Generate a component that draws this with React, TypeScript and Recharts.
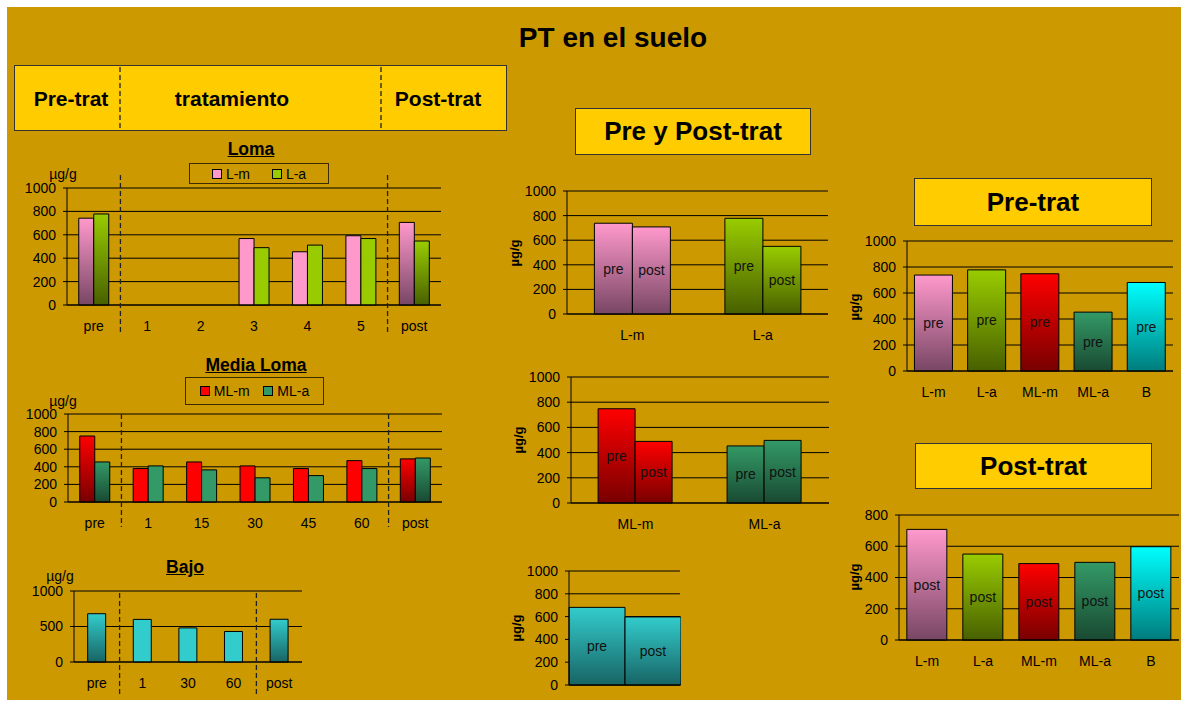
import React from "react";
import { BarChart, Bar, XAxis, YAxis, CartesianGrid, Cell, LabelList } from "recharts";

const FONT = '"Liberation Sans", Arial, Helvetica, sans-serif';

// Loma (tratamiento)
const lomaCats = ["pre", "1", "2", "3", "4", "5", "post"];
const lomaM = [742, null, null, 568, 455, 592, 706];
const lomaA = [778, null, null, 490, 512, 568, 547];

// Media Loma
const mediaCats = ["pre", "1", "15", "30", "45", "60", "post"];
const mediaM = [750, 380, 455, 410, 380, 470, 490];
const mediaA = [455, 410, 365, 275, 300, 380, 500];

// Bajo
const bajoCats = ["pre", "1", "30", "60", "post"];
const bajoB = [680, 600, 480, 430, 602];

// Pre / Post por sitio
const sites = ["L-m", "L-a", "ML-m", "ML-a", "B"];
const preTrat = [738, 778, 748, 453, 681];
const postTrat = [708, 550, 489, 497, 597];

const ticks1000 = [0, 200, 400, 600, 800, 1000];
const ticks800 = [0, 200, 400, 600, 800];
const ticksBajo = [0, 500, 1000];

const grads: [string, string, string][] = [
  ["gPink", "#FF99CC", "#784664"],
  ["gGreen", "#99CC00", "#486000"],
  ["gRed", "#FF0000", "#780000"],
  ["gTeal", "#339966", "#194a32"],
  ["gCyanD", "#33CCCC", "#186464"],
  ["gCyan", "#00FFFF", "#007c7c"],
];

const siteFill: Record<string, string> = {
  "L-m": "url(#gPink)",
  "L-a": "url(#gGreen)",
  "ML-m": "url(#gRed)",
  "ML-a": "url(#gTeal)",
  B: "url(#gCyan)",
};

const lomaData = lomaCats.map((cat, i) => ({ cat, m: lomaM[i], a: lomaA[i] }));
const mediaData = mediaCats.map((cat, i) => ({ cat, m: mediaM[i], a: mediaA[i] }));
const bajoData = bajoCats.map((cat, i) => ({ cat, b: bajoB[i] }));
const siteData = sites.map((cat, i) => ({ cat, pre: preTrat[i], post: postTrat[i] }));

// plot areas (page px)
type Frame = { x0: number; x1: number; y0: number; y1: number };
const F: Record<string, Frame> = {
  loma: { x0: 67, x1: 441, y0: 188, y1: 305 },
  media: { x0: 68, x1: 442, y0: 414, y1: 502 },
  bajo: { x0: 74, x1: 302, y0: 591, y1: 662 },
  mid1: { x0: 567, x1: 828, y0: 191, y1: 314 },
  mid2: { x0: 571, x1: 829, y0: 377, y1: 503 },
  mid3: { x0: 569, x1: 680, y0: 571, y1: 685 },
  pre: { x0: 907, x1: 1173, y0: 241, y1: 371 },
  post: { x0: 899, x1: 1179, y0: 515, y1: 640 },
};

const Y_W = 50;
const TOP = 10;
const X_H = 30;
const tickStyle = { fontSize: 14, fill: "#000", fontFamily: FONT };
const isEdge = (c: string) => c === "pre" || c === "post";

function Plot({ f, data, ticks, gap, hideX, children }: any) {
  const width = f.x1 - f.x0 + Y_W + 1;
  const height = f.y1 - f.y0 + TOP + X_H;
  return (
    <div style={{ position: "absolute", left: f.x0 - Y_W, top: f.y0 - TOP }}>
      <BarChart width={width} height={height} data={data} margin={{ top: TOP, right: 1, bottom: 0, left: 0 }}
        barCategoryGap={gap} barGap={0}>
        <CartesianGrid vertical={false} stroke="#000" />
        <XAxis dataKey="cat" height={X_H} interval={0} tickLine={false} tickSize={5} tickMargin={11}
          axisLine={{ stroke: "#000" }} tick={hideX ? false : tickStyle} />
        <YAxis width={Y_W} domain={[0, ticks[ticks.length - 1]]} ticks={ticks} interval={0} tickSize={4} tickMargin={7}
          axisLine={{ stroke: "#000" }} tickLine={{ stroke: "#000" }} tick={tickStyle} />
        {children}
      </BarChart>
    </div>
  );
}

const inLabel = (txt: string) => (
  <LabelList position="center" formatter={() => txt} fill="#111" stroke="none" fontSize={14} fontFamily={FONT} />
);

function YBox({ x, y, w, h, size, children }: any) {
  return (
    <div style={{ position: "absolute", left: x, top: y, width: w, height: h, boxSizing: "border-box",
      background: "#FFCC00", border: "1.5px solid #333", display: "flex", alignItems: "center",
      justifyContent: "center", fontWeight: "bold", fontSize: size }}>
      {children}
    </div>
  );
}

function Txt({ x, y, size, bold, underline, children }: any) {
  return (
    <div style={{ position: "absolute", left: x - 150, top: y - 15, width: 300, height: 30, lineHeight: "30px",
      textAlign: "center", fontSize: size, fontWeight: bold ? "bold" : "normal",
      textDecoration: underline ? "underline" : "none", whiteSpace: "nowrap" }}>
      {children}
    </div>
  );
}

function VLabel({ x, y }: any) {
  return (
    <div style={{ position: "absolute", left: x - 20, top: y - 10, width: 40, height: 20, lineHeight: "20px",
      textAlign: "center", fontSize: 13, fontWeight: "bold", transform: "rotate(-90deg)" }}>µg/g</div>
  );
}

function LegendBox({ x, y, w, h, items }: any) {
  return (
    <div style={{ position: "absolute", left: x, top: y, width: w, height: h, boxSizing: "border-box",
      border: "1px solid #3a2c00", display: "flex", alignItems: "center", justifyContent: "space-evenly", fontSize: 14 }}>
      {items.map((it: any) => (
        <span key={it.label} style={{ display: "flex", alignItems: "center" }}>
          <span style={{ display: "inline-block", width: 8, height: 8, background: it.color, border: "1px solid #000", marginRight: 4 }} />
          {it.label}
        </span>
      ))}
    </div>
  );
}

const sep = (f: Frame, n: number, k: number) => f.x0 + ((f.x1 - f.x0) * k) / n;

export default function App() {
  const dashes = [
    { x: 120, ya: 67, yb: 130 },
    { x: 381, ya: 67, yb: 130 },
    { x: sep(F.loma, 7, 1), ya: 175, yb: 333 },
    { x: sep(F.loma, 7, 6), ya: 175, yb: 333 },
    { x: sep(F.media, 7, 1), ya: 414, yb: 527 },
    { x: sep(F.media, 7, 6), ya: 414, yb: 527 },
    { x: sep(F.bajo, 5, 1), ya: 593, yb: 695 },
    { x: sep(F.bajo, 5, 4), ya: 593, yb: 695 },
  ];
  return (
    <div style={{ position: "absolute", left: 0, top: 0, width: 1181, height: 702, background: "#fff",
      overflow: "hidden", fontFamily: FONT, color: "#000" }}>
      <svg width={0} height={0} style={{ position: "absolute" }}>
        <defs>
          {grads.map(([id, top, bottom]) => (
            <linearGradient key={id} id={id} x1="0" y1="0" x2="0" y2="1">
              <stop offset="0%" stopColor={top} />
              <stop offset="100%" stopColor={bottom} />
            </linearGradient>
          ))}
        </defs>
      </svg>
      <div style={{ position: "absolute", left: 7, top: 7, width: 1174, height: 693, background: "#CC9900" }} />

      <Txt x={613} y={38} size={28} bold>PT en el suelo</Txt>

      <YBox x={14} y={65} w={493} h={66} size={21} />
      <Txt x={71} y={99} size={21} bold>Pre-trat</Txt>
      <Txt x={232} y={99} size={21} bold>tratamiento</Txt>
      <Txt x={438} y={99} size={21} bold>Post-trat</Txt>

      <YBox x={575} y={108} w={236} h={47} size={26}>Pre y Post-trat</YBox>
      <YBox x={914} y={178} w={238} h={48} size={26}>Pre-trat</YBox>
      <YBox x={915} y={443} w={237} h={46} size={26}>Post-trat</YBox>

      {/* Loma */}
      <Txt x={251} y={149} size={17.5} bold underline>Loma</Txt>
      <LegendBox x={189} y={163} w={140} h={21}
        items={[{ label: "L-m", color: "#FF99CC" }, { label: "L-a", color: "#99CC00" }]} />
      <Txt x={63} y={174} size={14}>µg/g</Txt>
      <Plot f={F.loma} data={lomaData} ticks={ticks1000} gap="22%">
        <Bar dataKey="m" name="L-m" fill="#FF99CC" stroke="#000" isAnimationActive={false}>
          {lomaData.map((d, i) => <Cell key={i} fill={isEdge(d.cat) ? "url(#gPink)" : "#FF99CC"} />)}
        </Bar>
        <Bar dataKey="a" name="L-a" fill="#99CC00" stroke="#000" isAnimationActive={false}>
          {lomaData.map((d, i) => <Cell key={i} fill={isEdge(d.cat) ? "url(#gGreen)" : "#99CC00"} />)}
        </Bar>
      </Plot>

      {/* Media Loma */}
      <Txt x={256} y={365} size={17.5} bold underline>Media Loma</Txt>
      <LegendBox x={185} y={377} w={139} h={28}
        items={[{ label: "ML-m", color: "#FF0000" }, { label: "ML-a", color: "#339966" }]} />
      <Txt x={63} y={401} size={14}>µg/g</Txt>
      <Plot f={F.media} data={mediaData} ticks={ticks1000} gap="22%">
        <Bar dataKey="m" name="ML-m" fill="#FF0000" stroke="#000" isAnimationActive={false}>
          {mediaData.map((d, i) => <Cell key={i} fill={isEdge(d.cat) ? "url(#gRed)" : "#FF0000"} />)}
        </Bar>
        <Bar dataKey="a" name="ML-a" fill="#339966" stroke="#000" isAnimationActive={false}>
          {mediaData.map((d, i) => <Cell key={i} fill={isEdge(d.cat) ? "url(#gTeal)" : "#339966"} />)}
        </Bar>
      </Plot>

      {/* Bajo */}
      <Txt x={185} y={567} size={17.5} bold underline>Bajo</Txt>
      <Txt x={60} y={576} size={14}>µg/g</Txt>
      <Plot f={F.bajo} data={bajoData} ticks={ticksBajo} gap="30%">
        <Bar dataKey="b" name="B" fill="#33CCCC" stroke="#000" isAnimationActive={false}>
          {bajoData.map((d, i) => <Cell key={i} fill={isEdge(d.cat) ? "url(#gCyanD)" : "#33CCCC"} />)}
        </Bar>
      </Plot>

      {/* Pre y Post-trat */}
      <VLabel x={515} y={253} />
      <Plot f={F.mid1} data={siteData.slice(0, 2)} ticks={ticks1000} gap="21%">
        <Bar dataKey="pre" stroke="#000" isAnimationActive={false}>
          {siteData.slice(0, 2).map((d, i) => <Cell key={i} fill={siteFill[d.cat]} />)}
          {inLabel("pre")}
        </Bar>
        <Bar dataKey="post" stroke="#000" isAnimationActive={false}>
          {siteData.slice(0, 2).map((d, i) => <Cell key={i} fill={siteFill[d.cat]} />)}
          {inLabel("post")}
        </Bar>
      </Plot>

      <VLabel x={519} y={440} />
      <Plot f={F.mid2} data={siteData.slice(2, 4)} ticks={ticks1000} gap="21%">
        <Bar dataKey="pre" stroke="#000" isAnimationActive={false}>
          {siteData.slice(2, 4).map((d, i) => <Cell key={i} fill={siteFill[d.cat]} />)}
          {inLabel("pre")}
        </Bar>
        <Bar dataKey="post" stroke="#000" isAnimationActive={false}>
          {siteData.slice(2, 4).map((d, i) => <Cell key={i} fill={siteFill[d.cat]} />)}
          {inLabel("post")}
        </Bar>
      </Plot>

      <VLabel x={517} y={628} />
      <Plot f={F.mid3} data={siteData.slice(4)} ticks={ticks1000} gap="0%" hideX>
        <Bar dataKey="pre" fill="url(#gCyanD)" stroke="#000" isAnimationActive={false}>
          {inLabel("pre")}
        </Bar>
        <Bar dataKey="post" fill="url(#gCyanD)" stroke="#000" isAnimationActive={false}>
          {inLabel("post")}
        </Bar>
      </Plot>

      {/* Pre-trat */}
      <VLabel x={855} y={307} />
      <Plot f={F.pre} data={siteData} ticks={ticks1000} gap="14%">
        <Bar dataKey="pre" stroke="#000" isAnimationActive={false}>
          {siteData.map((d, i) => <Cell key={i} fill={siteFill[d.cat]} />)}
          {inLabel("pre")}
        </Bar>
      </Plot>

      {/* Post-trat */}
      <VLabel x={855} y={577} />
      <Plot f={F.post} data={siteData} ticks={ticks800} gap="14%">
        <Bar dataKey="post" stroke="#000" isAnimationActive={false}>
          {siteData.map((d, i) => <Cell key={i} fill={siteFill[d.cat]} />)}
          {inLabel("post")}
        </Bar>
      </Plot>

      <svg width={1181} height={702} style={{ position: "absolute", left: 0, top: 0, pointerEvents: "none" }}>
        {dashes.map((d, i) => (
          <line key={i} x1={d.x} x2={d.x} y1={d.ya} y2={d.yb} stroke="#222" strokeWidth={1.3} strokeDasharray="5 3" />
        ))}
      </svg>
    </div>
  );
}
